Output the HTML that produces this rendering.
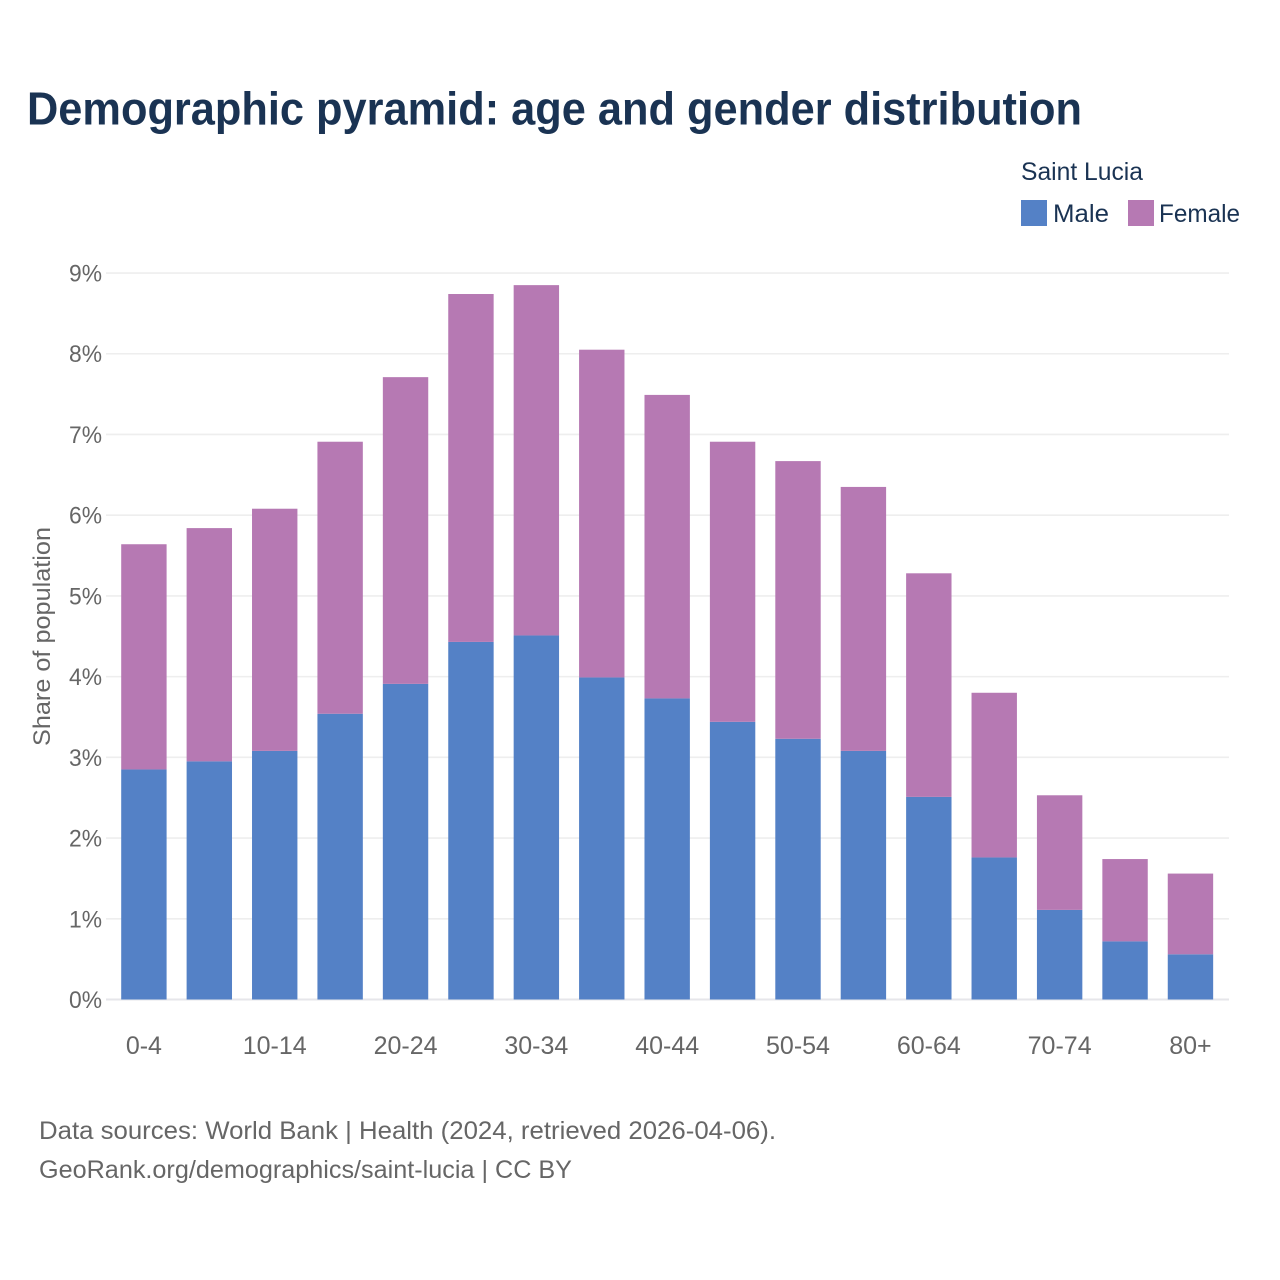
<!DOCTYPE html>
<html lang="en">
<head>
<meta charset="utf-8">
<title>Demographic pyramid: Saint Lucia</title>
<style>
html,body{margin:0;padding:0;background:#fff;}
svg{display:block;font-family:"Liberation Sans",sans-serif;}
</style>
</head>
<body>
<svg id="chart" width="1280" height="1280" viewBox="0 0 1280 1280" xmlns="http://www.w3.org/2000/svg">
<rect x="0" y="0" width="1280" height="1280" fill="#ffffff"/>
<text x="27" y="124.5" font-size="46" font-weight="700" fill="#1a3353" textLength="1055" lengthAdjust="spacingAndGlyphs">Demographic pyramid: age and gender distribution</text>
<g>
<text x="1021" y="180" font-size="25" fill="#1a3353" textLength="122" lengthAdjust="spacingAndGlyphs">Saint Lucia</text>
<rect x="1021" y="200" width="26" height="26" fill="#5481c6"/>
<text x="1053" y="222" font-size="25" fill="#1a3353" textLength="56" lengthAdjust="spacingAndGlyphs">Male</text>
<rect x="1128" y="200" width="26" height="26" fill="#b679b3"/>
<text x="1159" y="222" font-size="25" fill="#1a3353" textLength="81" lengthAdjust="spacingAndGlyphs">Female</text>
</g>
<g id="grid"></g>
<g id="bars"></g>
<g id="yticks"></g>
<g id="xticks"></g>
<text transform="translate(50,636.5) rotate(-90)" text-anchor="middle" font-size="24" fill="#666666" textLength="219" lengthAdjust="spacingAndGlyphs">Share of population</text>
<text x="39" y="1139" font-size="25" fill="#666666" textLength="737" lengthAdjust="spacingAndGlyphs">Data sources: World Bank | Health (2024, retrieved 2026-04-06).</text>
<text x="39" y="1178" font-size="25" fill="#666666" textLength="533" lengthAdjust="spacingAndGlyphs">GeoRank.org/demographics/saint-lucia | CC BY</text>
</svg>
<script>
const categories = ["0-4","5-9","10-14","15-19","20-24","25-29","30-34","35-39","40-44","45-49","50-54","55-59","60-64","65-69","70-74","75-79","80+"];
const maleValues = [2.85,2.95,3.08,3.54,3.91,4.43,4.51,3.99,3.73,3.44,3.23,3.08,2.51,1.76,1.11,0.72,0.56];
const femaleValues = [2.79,2.89,3.00,3.37,3.80,4.31,4.34,4.06,3.76,3.47,3.44,3.27,2.77,2.04,1.42,1.02,1.00];
const yTickValues = [0,1,2,3,4,5,6,7,8,9];
const xTickLabels = ["0-4","10-14","20-24","30-34","40-44","50-54","60-64","70-74","80+"];

const NS = 'http://www.w3.org/2000/svg';
const y0 = 999.5, yUnit = 80.72;
const bandStart = 143.9, bandStep = 65.41, barWidth = 45.4;
function yScale(v) { return y0 - v * yUnit; }
function xScale(i) { return bandStart + i * bandStep; }
function make(tag, attrs) {
  const el = document.createElementNS(NS, tag);
  for (const k in attrs) el.setAttribute(k, attrs[k]);
  return el;
}
const grid = document.getElementById('grid');
const yticks = document.getElementById('yticks');
yTickValues.forEach(function (t) {
  const line = make('line', {x1: 106, x2: 1229, y1: yScale(t), y2: yScale(t), stroke: t === 0 ? '#e6e6ea' : '#eeeeee', 'stroke-width': t === 0 ? 2 : 1.6});
  
  
  grid.appendChild(line);
  const label = make('text', {x: 102, y: yScale(t) + 8.5, 'text-anchor': 'end', 'font-size': 24, fill: '#666666', textLength: 33, lengthAdjust: 'spacingAndGlyphs'});
  label.textContent = t + '%';
  
  
  yticks.appendChild(label);
});
const bars = document.getElementById('bars');
categories.forEach(function (cat, i) {
  const m = maleValues[i], f = femaleValues[i];
  const x = xScale(i) - barWidth / 2;
  const maleBar = make('rect', {x: x, y: yScale(m), width: barWidth, height: yScale(0) - yScale(m), fill: '#5481c6'});
  
  
  bars.appendChild(maleBar);
  const femaleBar = make('rect', {x: x, y: yScale(m + f), width: barWidth, height: yScale(m) - yScale(m + f), fill: '#b679b3'});
  
  
  bars.appendChild(femaleBar);
});
const xticks = document.getElementById('xticks');
xTickLabels.forEach(function (lab) {
  const i = categories.indexOf(lab);
  const label = make('text', {x: xScale(i), y: 1054, 'text-anchor': 'middle', 'font-size': 25, fill: '#666666'});
  label.textContent = lab;
  
  
  xticks.appendChild(label);
});
</script>
</body>
</html>
